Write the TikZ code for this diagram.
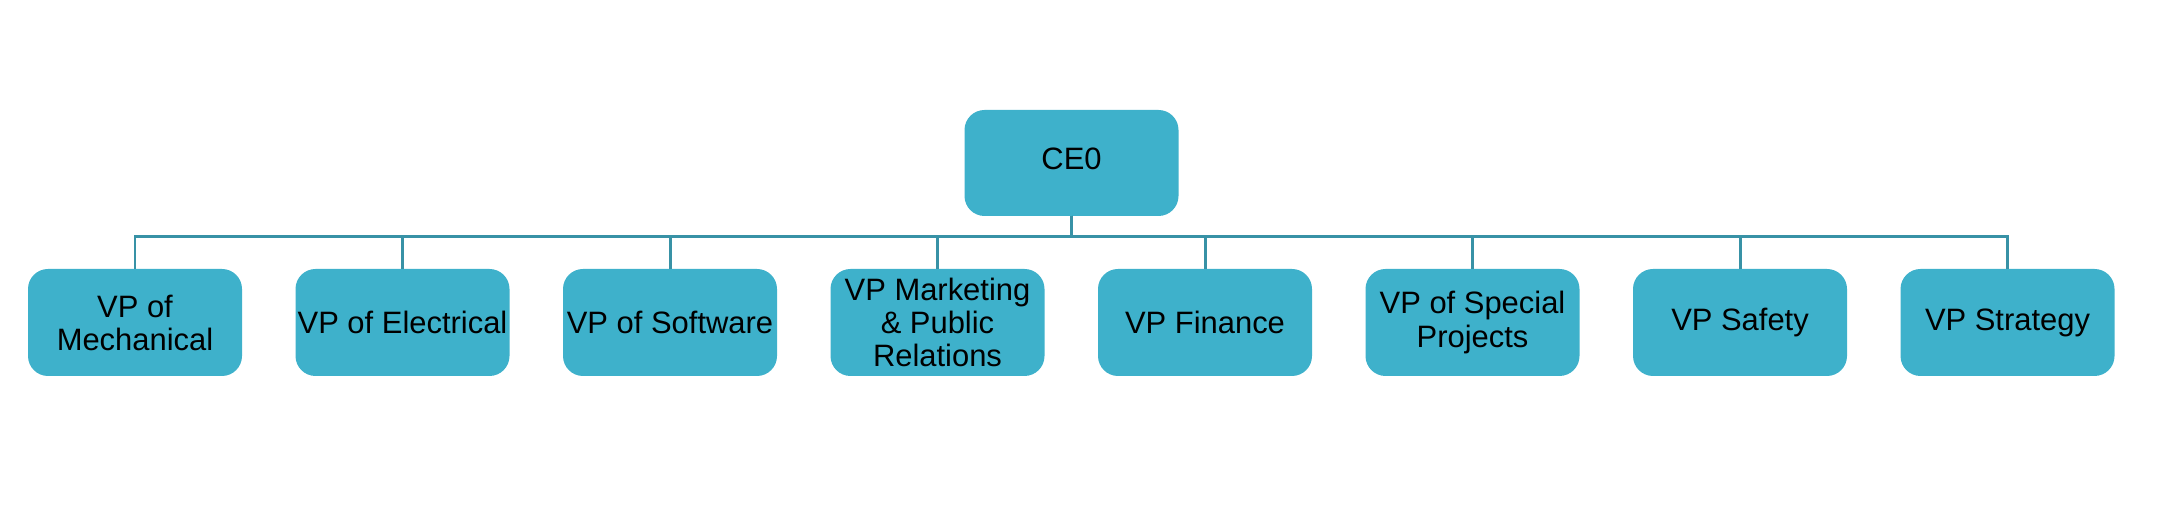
\documentclass[tikz,border=0pt]{standalone}
\usepackage{fontspec}
\setmainfont{Liberation Sans}
\usepackage{xcolor}
\usepackage{tikz}
\usetikzlibrary{positioning}

\definecolor{boxteal}{RGB}{62,177,203}
\definecolor{lineteal}{RGB}{56,146,166}

\begin{document}
\begin{tikzpicture}[
        node distance=0.535cm,
        role/.style={fill=boxteal, rounded corners=0.2cm, align=center, inner sep=0pt, outer sep=0pt,
            minimum width=2.14cm, minimum height=1.07cm,
            font=\fontsize{8.8}{9.4}\selectfont},
        link/.style={draw=lineteal, line width=0.85pt}]

        \useasboundingbox (0,0) rectangle (21.62,5.32);

        % Nodes
        \node[role, minimum height=1.06cm] (ceo) at (10.715,3.69) {\raisebox{0.8mm}{CE0}};

        \node[role] (mech) at (1.35,2.095) {VP of\\Mechanical};
        \node[role, right=of mech] (elec) {VP of Electrical};
        \node[role, right=of elec] (soft) {VP of Software};
        \node[role, right=of soft] (mkt) {VP Marketing\\\& Public\\Relations};
        \node[role, right=of mkt] (fin) {VP Finance};
        \node[role, right=of fin] (spec) {VP of Special\\Projects};
        \node[role, right=of spec] (safe) {VP Safety};
        \node[role, right=of safe] (strat) {VP Strategy};

        % Edges
        \foreach \vp in {mech,elec,soft,mkt,fin,spec,safe,strat}
            \draw[link] (ceo.south) -- ++(0,-0.21) -| (\vp.north);

    \end{tikzpicture}
\end{document}
